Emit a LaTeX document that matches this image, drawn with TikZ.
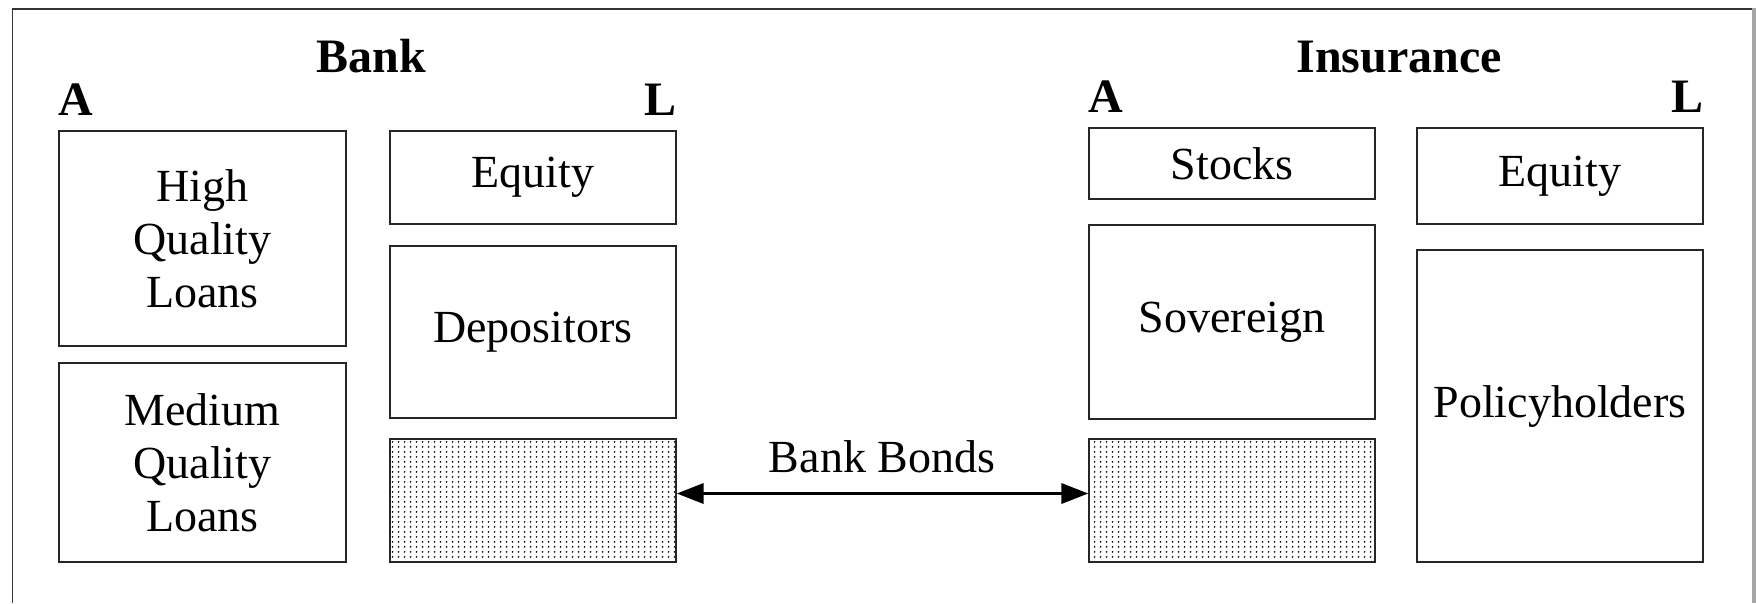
\documentclass[tikz,border=0pt]{standalone}
\usepackage{fontspec}
\setmainfont{Liberation Serif}
\usetikzlibrary{arrows.meta,patterns.meta}

% fine dot screen used for the bond holdings
\pgfdeclarepattern{
  name=bonddots, type=uncolored,
  bottom left={\pgfpoint{0pt}{0pt}},
  top right={\pgfpoint{6pt}{5pt}},
  tile size={\pgfpoint{6pt}{5pt}},
  code={\pgfpathcircle{\pgfpoint{3pt}{2.5pt}}{1.1pt}\pgfusepath{fill}}
}

\tikzset{
  sheetbox/.style={draw=black!85, line width=1.3pt, inner sep=0pt, align=center,
    font=\fontsize{46}{53}\selectfont},
  bondbox/.style={sheetbox, pattern=bonddots, pattern color=black},
  heading/.style={inner sep=0pt, font=\bfseries\fontsize{48}{56}\selectfont},
  sidelabel/.style={heading},
  flow/.style={line width=3.5pt, {Triangle[length=27pt,width=20pt]}-{Triangle[length=27pt,width=20pt]}},
  frameline/.style={draw=black!80, line width=1.6pt}
}

\begin{document}
\begin{tikzpicture}[x=1pt, y=-1pt]
\useasboundingbox (0,0) rectangle (1756,603);

% page frame
\draw[frameline] (12.3,603) -- (12.3,9) -- (1752,9);
\fill[black!35] (1752,8) rectangle (1756,603);

% ---------------- Bank ----------------
\node[heading, anchor=base] (bank) at (371,72) {Bank};
\node[sheetbox, minimum width=287pt, minimum height=215pt] (hq) at (202.5,238.5) {High\\Quality\\Loans};
\node[sheetbox, minimum width=287pt, minimum height=199pt] (mq) at (202.5,462.5) {Medium\\Quality\\Loans};
\node[sheetbox, minimum width=286pt, minimum height=93pt] (beq) at (533,177.5) {Equity};
\node[sheetbox, minimum width=286pt, minimum height=172pt] (dep) at (533,332) {Depositors};
\node[bondbox, minimum width=286pt, minimum height=123pt] (bb) at (533,500.5) {};
\node[sidelabel, anchor=base west] (bankA) at (hq.west |- 0,115) {A};
\node[sidelabel, anchor=base east] (bankL) at (beq.east |- 0,115) {L};

% ---------------- Insurance ----------------
\node[heading, anchor=base] (ins) at (1399,72) {Insurance};
\node[sheetbox, minimum width=286pt, minimum height=71pt] (stk) at (1232,163.5) {Stocks};
\node[sheetbox, minimum width=286pt, minimum height=194pt] (sov) at (1232,322) {Sovereign};
\node[bondbox, minimum width=286pt, minimum height=123pt] (ib) at (1232,500.5) {};
\node[sheetbox, minimum width=286pt, minimum height=96pt] (ieq) at (1560,176) {Equity};
\node[sheetbox, minimum width=286pt, minimum height=312pt] (pol) at (1560,406) {Policyholders};
\node[sidelabel, anchor=base west] (insA) at (stk.west |- 0,112) {A};
\node[sidelabel, anchor=base east] (insL) at (ieq.east |- 0,112) {L};

% cross holding of bank bonds
\draw[flow] ([yshift=7pt]bb.east) -- ([yshift=7pt]ib.west);
\node[anchor=base, inner sep=0pt, font=\fontsize{46}{53}\selectfont] (bonds) at (882,472) {Bank Bonds};
\end{tikzpicture}
\end{document}
